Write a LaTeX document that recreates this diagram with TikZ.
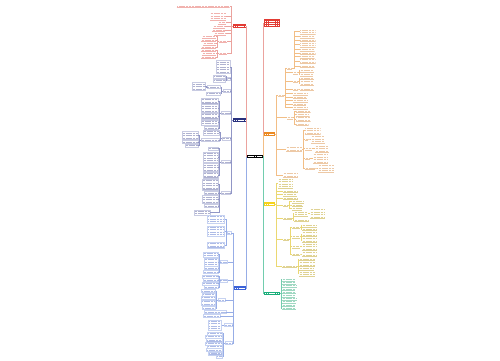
\documentclass[tikz,border=0pt]{standalone}
\usepackage{xcolor}
\definecolor{cR}{HTML}{E23B33}
\definecolor{tR}{HTML}{E0554C}
\definecolor{lR}{HTML}{EBA39E}
\definecolor{cN}{HTML}{28307E}
\definecolor{tN}{HTML}{4D5496}
\definecolor{lN}{HTML}{9196C6}
\definecolor{cB}{HTML}{3B62D8}
\definecolor{tB}{HTML}{4868C8}
\definecolor{lB}{HTML}{97ADE6}
\definecolor{cO}{HTML}{EC8A22}
\definecolor{tO}{HTML}{D8883A}
\definecolor{lO}{HTML}{F2BE86}
\definecolor{cY}{HTML}{F5D31C}
\definecolor{tY}{HTML}{B89A10}
\definecolor{lY}{HTML}{EBD872}
\definecolor{cG}{HTML}{1AAE7A}
\definecolor{tG}{HTML}{2BA878}
\definecolor{lG}{HTML}{72CDAE}
\tikzset{
  leaf/.style n args={3}{inner sep=0pt, outer sep=0pt, minimum width=#2pt,
    minimum height={#1*2.5pt+0.6pt},
    path picture={
      \foreach \i in {1,...,#1}{
        \draw[line width=0.7pt, #3!45, dash pattern=on 1.1pt off 0.35pt]
          ([xshift=0.6pt,yshift={-(\i-0.5)*2.5pt-0.2pt}]path picture bounding box.north west) --
          ([xshift=-0.6pt,yshift={-(\i-0.5)*2.5pt-0.2pt}]path picture bounding box.north east);}
      \draw[line width=0.35pt, #3!45]
        ([yshift=0.2pt]path picture bounding box.south west) --
        ([yshift=0.2pt]path picture bounding box.south east);}},
  topic/.style n args={3}{fill=#3, inner sep=0pt, outer sep=0pt, minimum width=#1pt, minimum height=#2pt,
    path picture={\draw[white, line width=0.9pt, dash pattern=on 1.4pt off 0.4pt]
      ([xshift=1pt]path picture bounding box.west) -- ([xshift=-1pt]path picture bounding box.east);}},
  ln/.style={line width=0.4pt},
  mainln/.style={line width=0.7pt},
  boxed/.style={every node/.append style={draw=#1, line width=0.25pt}}
}
\newcommand{\LL}[6]{\node[leaf={#4}{#5}{#6}, anchor=east] (#1) at (#2,#3) {};}
\newcommand{\RL}[6]{\node[leaf={#4}{#5}{#6}, anchor=west] (#1) at (#2,#3) {};}
\newcommand{\Lk}[4]{\draw[#1] (#2.west) -- ++(-#3,0) |- (#4.east);}
\newcommand{\Rk}[4]{\draw[#1] (#2.east) -- ++(#3,0) |- (#4.west);}
\begin{document}
\begin{tikzpicture}[x=1pt,y=-1pt]
\fill[white] (0,0) rectangle (500,360);
\useasboundingbox (0,0) rectangle (500,360);

% ---------- centre and main topics ----------
\node[topic={16}{3.5}{black}] (C) at (254.5,156.5) {};
\node[topic={13}{3.5}{cR}] (R1) at (239.5,26) {};
\node[topic={13}{3.5}{cN}] (B1) at (239.5,120) {};
\node[topic={12}{3.5}{cB}] (B2) at (240,288) {};
\node[fill=cR, minimum width=16pt, minimum height=8pt, inner sep=0pt, outer sep=0pt,
  path picture={\foreach \k in {1,2,3}{\draw[white, line width=0.8pt, dash pattern=on 1.4pt off 0.4pt]
    ([xshift=1pt,yshift={-\k*2.2pt+0.3pt}]path picture bounding box.north west) --
    ([xshift=-1pt,yshift={-\k*2.2pt+0.3pt}]path picture bounding box.north east);}}] (TR) at (272,23) {};
\node[topic={11}{3.5}{cO}] (O) at (269.5,134) {};
\node[topic={11}{3.5}{cY}] (Y) at (269.5,204) {};
\node[topic={16}{3.5}{cG}] (G) at (272,293.5) {};

\draw[mainln, lN] (C.west) |- (B1.east);
\draw[mainln, lR] (C.west) |- (R1.east);
\draw[mainln, lB] (C.west) |- (B2.east);
\draw[mainln, lR] (C.east) -- ++(0.6,0) |- (TR.west);
\draw[mainln, lO] (C.east) -- ++(0.6,0) |- (O.west);
\draw[mainln, lY] (C.east) -- ++(0.6,0) |- (Y.west);
\draw[mainln, lG] (C.east) -- ++(0.6,0) |- (G.west);

% ---------- red branch ----------
\LL{r1}{229.5}{6}{1}{53}{tR}
\LL{r2}{226}{16}{3}{16}{tR}
\LL{r3}{226}{22.5}{1}{8}{tR}
\LL{r4}{225}{26.5}{1}{12}{tR}
\LL{r5}{225}{30}{1}{13}{tR}
\LL{r6}{226}{33.5}{1}{12}{tR}
\LL{r7}{227}{41}{1}{8}{tR}
\LL{r8}{227}{53}{1}{8}{tR}
\foreach \c in {r1,r2,r3,r4,r5,r6,r7,r8} {\Lk{ln,lR}{R1}{2}{\c}}
\LL{r71}{216}{36.5}{1}{14}{tR}
\LL{r72}{216}{40}{1}{15}{tR}
\LL{r73}{216}{43.5}{1}{13}{tR}
\LL{r74}{216}{47}{1}{15}{tR}
\foreach \c in {r71,r72,r73,r74} {\Lk{ln,lR}{r7}{1.5}{\c}}
\LL{r81}{216}{50}{1}{15}{tR}
\LL{r82}{216}{53.5}{1}{14}{tR}
\LL{r83}{216}{57}{1}{15}{tR}
\foreach \c in {r81,r82,r83} {\Lk{ln,lR}{r8}{1.5}{\c}}

% ---------- dark blue branch ----------
\begin{scope}[boxed=lN!50]
\LL{c1}{230}{67}{5}{14}{tN}
\LL{c2}{230}{78.5}{1}{3}{tN}
\LL{c21}{225.5}{76.5}{1}{12}{tN}
\LL{c22}{225.5}{80.5}{1}{12}{tN}
\LL{c3}{230}{91}{1}{7}{tN}
\LL{c31}{220.5}{87}{1}{13}{tN}
\LL{c311}{205}{86.5}{3}{13}{tN}
\LL{c32}{220.5}{93.5}{1}{14}{tN}
\LL{c4}{230}{113}{1}{9}{tN}
\LL{c41}{218}{101}{2}{17}{tN}
\LL{c42}{218}{108.5}{3}{17}{tN}
\LL{c43}{218}{116}{2}{17}{tN}
\LL{c44}{218}{122.5}{2}{17}{tN}
\LL{c45}{218}{128}{1}{14}{tN}
\LL{c5}{230}{138.5}{1}{8}{tN}
\LL{c51}{219}{132.5}{2}{16}{tN}
\LL{c52}{219}{140}{1}{18}{tN}
\LL{c521}{198}{135.5}{3}{16}{tN}
\LL{c522}{198}{142}{1}{16}{tN}
\LL{c523}{198}{145.5}{1}{13}{tN}
\LL{c6}{230}{162}{1}{9}{tN}
\LL{c61}{218}{148.5}{1}{10}{tN}
\LL{c62}{218}{157}{4}{15}{tN}
\LL{c63}{218}{167.5}{3}{15}{tN}
\LL{c64}{218}{175}{2}{15}{tN}
\LL{c7}{230}{193}{1}{9}{tN}
\LL{c71}{218}{184.5}{4}{16}{tN}
\LL{c72}{218}{193}{1}{14}{tN}
\LL{c73}{218}{199.5}{3}{16}{tN}
\LL{c74}{218}{206}{1}{14}{tN}
\LL{c75}{210}{212.5}{2}{16}{tN}
\end{scope}
\foreach \c in {c1,c2,c3,c4,c5,c6,c7} {\Lk{ln,lN}{B1}{1.5}{\c}}
\foreach \c in {c21,c22} {\Lk{ln,lN}{c2}{0.7}{\c}}
\foreach \c in {c31,c32} {\Lk{ln,lN}{c3}{1.5}{\c}}
\Lk{ln,lN}{c31}{1.3}{c311}
\foreach \c in {c41,c42,c43,c44,c45} {\Lk{ln,lN}{c4}{1.5}{\c}}
\foreach \c in {c51,c52} {\Lk{ln,lN}{c5}{1.5}{\c}}
\foreach \c in {c521,c522,c523} {\Lk{ln,lN}{c52}{1.5}{\c}}
\foreach \c in {c61,c62,c63,c64} {\Lk{ln,lN}{c6}{1.5}{\c}}
\foreach \c in {c71,c72,c73,c74,c75} {\Lk{ln,lN}{c7}{1.5}{\c}}

% ---------- blue branch ----------
\begin{scope}[boxed=lB!55]
\LL{d1}{231}{233}{1}{4}{tB}
\LL{d11}{224.5}{219}{3}{17}{tB}
\LL{d12}{224.5}{231}{4}{17}{tB}
\LL{d13}{224.5}{245}{2}{17}{tB}
\LL{d2}{227.5}{262}{1}{7}{tB}
\LL{d21}{218}{254.5}{2}{15}{tB}
\LL{d22}{218}{262}{3}{14}{tB}
\LL{d23}{218}{268}{1}{14}{tB}
\LL{d24}{218}{272}{1}{15}{tB}
\LL{d3}{227.5}{280.5}{1}{7}{tB}
\LL{d31}{218}{276.5}{1}{16}{tB}
\LL{d32}{218}{280}{1}{15}{tB}
\LL{d33}{218}{283.5}{1}{16}{tB}
\LL{d34}{218}{287}{1}{14}{tB}
\LL{d4}{225}{300}{1}{7}{tB}
\LL{d41}{215.5}{291}{1}{14}{tB}
\LL{d42}{215.5}{294.4}{1}{13}{tB}
\LL{d43}{215.5}{297.8}{1}{14}{tB}
\LL{d44}{215.5}{302.8}{2}{14}{tB}
\LL{d45}{215.5}{308}{1}{13}{tB}
\LL{d5}{226}{312}{1}{22}{tB}
\LL{d6}{220}{316}{1}{17}{tB}
\LL{d7}{232}{325}{1}{8}{tB}
\LL{d71}{221.5}{325}{4}{13}{tB}
\LL{d8}{232}{343}{1}{7}{tB}
\LL{d81}{222.5}{333.5}{1}{15}{tB}
\LL{d82}{222.5}{336.8}{1}{17}{tB}
\LL{d83}{222.5}{340.1}{1}{16}{tB}
\LL{d84}{222.5}{343.4}{1}{17}{tB}
\LL{d85}{222.5}{346.7}{1}{15}{tB}
\LL{d86}{222.5}{350}{1}{16}{tB}
\LL{d87}{222.5}{353.3}{1}{14}{tB}
\LL{d88}{222.5}{356.6}{1}{6}{tB}
\end{scope}
\foreach \c in {d1,d2,d3,d4,d5,d6,d7,d8} {\Lk{ln,lB}{B2}{1}{\c}}
\foreach \c in {d11,d12,d13} {\Lk{ln,lB}{d1}{1}{\c}}
\foreach \c in {d21,d22,d23,d24} {\Lk{ln,lB}{d2}{1.5}{\c}}
\foreach \c in {d31,d32,d33,d34} {\Lk{ln,lB}{d3}{1.5}{\c}}
\foreach \c in {d41,d42,d43,d44,d45} {\Lk{ln,lB}{d4}{1.5}{\c}}
\Lk{ln,lB}{d7}{1.5}{d71}
\foreach \c in {d81,d82,d83,d84,d85,d86,d87,d88} {\Lk{ln,lB}{d8}{1.5}{\c}}

% ---------- orange branch ----------
\RL{o1}{278}{95}{1}{6}{tO}
\RL{p1}{287}{68}{1}{5}{tO}
\RL{p11}{299.5}{31.5}{2}{16}{tO}
\RL{p12}{299.5}{36.5}{1}{15}{tO}
\RL{p13}{299.5}{40}{1}{16}{tO}
\RL{p14}{299.5}{44.5}{2}{16}{tO}
\RL{p15}{299.5}{49.5}{1}{15}{tO}
\RL{p16}{299.5}{53}{1}{16}{tO}
\RL{p17}{299.5}{56.5}{1}{15}{tO}
\RL{p18}{299.5}{61}{2}{16}{tO}
\RL{p19}{299.5}{66}{1}{15}{tO}
\RL{p2}{293}{72.5}{1}{5}{tO}
\RL{p21}{300}{70.5}{1}{14}{tO}
\RL{p22}{300}{74.5}{1}{13}{tO}
\RL{p3}{293}{81}{1}{5}{tO}
\RL{p31}{300}{78.3}{1}{14}{tO}
\RL{p32}{300}{83}{2}{14}{tO}
\RL{p4}{293}{89}{1}{5}{tO}
\RL{p41}{300}{89}{1}{14}{tO}
\RL{o11}{293}{93.5}{1}{15}{tO}
\RL{o12}{293}{97}{1}{14}{tO}
\RL{o13}{293}{100.5}{1}{15}{tO}
\RL{o14}{293}{104}{1}{13}{tO}
\RL{o15}{293}{107.5}{1}{15}{tO}
\RL{o2}{287}{117.5}{1}{6}{tO}
\RL{o21}{295.5}{111}{1}{15}{tO}
\RL{o22}{295.5}{114.5}{1}{14}{tO}
\RL{o23}{295.5}{119}{2}{15}{tO}
\RL{o24}{295.5}{124}{1}{13}{tO}
\RL{o4}{286}{149}{2}{16}{tO}
\RL{q1}{304.5}{130.5}{3}{16}{tO}
\RL{q2}{305}{139}{1}{3}{tO}
\RL{q21}{311}{139}{3}{14}{tO}
\RL{q3}{305}{148.5}{1}{7}{tO}
\RL{q31}{315}{148.5}{3}{14}{tO}
\RL{q4}{305}{158.3}{1}{5}{tO}
\RL{q41}{313}{158.3}{4}{15}{tO}
\RL{q5}{305}{168}{1}{10}{tO}
\RL{q51}{318}{168}{3}{16}{tO}
\RL{o5}{283}{175}{2}{15}{tO}
\foreach \c in {o1,o2,o4,o5} {\Rk{ln,lO}{O}{1.5}{\c}}
\foreach \c in {p1,p2,p3,p4,o11,o12,o13,o14,o15} {\Rk{ln,lO}{o1}{1.5}{\c}}
\foreach \c in {p11,p12,p13,p14,p15,p16,p17,p18,p19} {\Rk{ln,lO}{p1}{2}{\c}}
\foreach \c in {p21,p22} {\Rk{ln,lO}{p2}{1}{\c}}
\foreach \c in {p31,p32} {\Rk{ln,lO}{p3}{1}{\c}}
\Rk{ln,lO}{p4}{1}{p41}
\foreach \c in {o21,o22,o23,o24} {\Rk{ln,lO}{o2}{1.2}{\c}}
\foreach \c in {q1,q2,q3,q4,q5} {\Rk{ln,lO}{o4}{1.5}{\c}}
\Rk{ln,lO}{q2}{1.5}{q21}
\Rk{ln,lO}{q3}{1.5}{q31}
\Rk{ln,lO}{q4}{1.5}{q41}
\Rk{ln,lO}{q5}{1.5}{q51}

% ---------- yellow branch ----------
\RL{y1}{278}{182.8}{4}{15}{tY}
\RL{y2}{283}{191}{1}{15}{tY}
\RL{y3}{283}{194.5}{1}{14}{tY}
\RL{y4}{283}{198}{1}{15}{tY}
\RL{y5}{283}{205}{1}{5}{tY}
\RL{y51}{292}{201.5}{1}{12}{tY}
\RL{y52}{292}{205}{1}{11}{tY}
\RL{y53}{292}{208.5}{1}{10}{tY}
\RL{y6}{283}{218}{1}{9}{tY}
\RL{y61}{294}{213.5}{2}{14}{tY}
\RL{y611}{310}{213.5}{4}{15}{tY}
\RL{y62}{294}{220}{1}{15}{tY}
\RL{y7}{283}{239}{1}{6}{tY}
\RL{s1}{292}{227}{1}{8}{tY}
\RL{s11}{302}{225.5}{1}{15}{tY}
\RL{s12}{302}{229}{1}{15}{tY}
\RL{s2}{292}{236.5}{1}{8}{tY}
\RL{s21}{302}{234}{2}{15}{tY}
\RL{s22}{302}{239.7}{2}{15}{tY}
\RL{s3}{292}{246.5}{1}{8}{tY}
\RL{s31}{302}{246.5}{3}{15}{tY}
\RL{s4}{292}{254}{1}{8}{tY}
\RL{s41}{302}{254}{2}{15}{tY}
\RL{y8}{282}{266}{1}{15}{tY}
\RL{y81}{299}{259}{1}{16}{tY}
\RL{y82}{299}{263.8}{2}{16}{tY}
\RL{y83}{299}{268.5}{1}{15}{tY}
\RL{y84}{299}{273.5}{2}{16}{tY}
\foreach \c in {y1,y2,y3,y4,y5,y6,y7,y8} {\Rk{ln,lY}{Y}{1.5}{\c}}
\foreach \c in {y51,y52,y53} {\Rk{ln,lY}{y5}{1.5}{\c}}
\foreach \c in {y61,y62} {\Rk{ln,lY}{y6}{0.8}{\c}}
\Rk{ln,lY}{y61}{1}{y611}
\foreach \c in {s1,s2,s3,s4} {\Rk{ln,lY}{y7}{1.5}{\c}}
\foreach \c in {s11,s12} {\Rk{ln,lY}{s1}{1}{\c}}
\foreach \c in {s21,s22} {\Rk{ln,lY}{s2}{1}{\c}}
\Rk{ln,lY}{s3}{1}{s31}
\Rk{ln,lY}{s4}{1}{s41}
\foreach \c in {y81,y82,y83,y84} {\Rk{ln,lY}{y8}{1}{\c}}

% ---------- green branch ----------
\RL{g1}{282}{279.5}{1}{13}{tG}
\RL{g2}{282}{282.7}{1}{14}{tG}
\RL{g3}{282}{285.9}{1}{15}{tG}
\RL{g4}{282}{289.1}{1}{13}{tG}
\RL{g5}{282}{292.3}{1}{14}{tG}
\RL{g6}{282}{295.5}{1}{13}{tG}
\RL{g7}{282}{298.7}{1}{15}{tG}
\RL{g8}{282}{301.9}{1}{14}{tG}
\RL{g9}{282}{305.1}{1}{13}{tG}
\RL{g10}{282}{308.3}{1}{14}{tG}
\foreach \c in {g1,g2,g3,g4,g5,g6,g7,g8,g9,g10} {\Rk{ln,lG}{G}{1}{\c}}
\end{tikzpicture}
\end{document}
